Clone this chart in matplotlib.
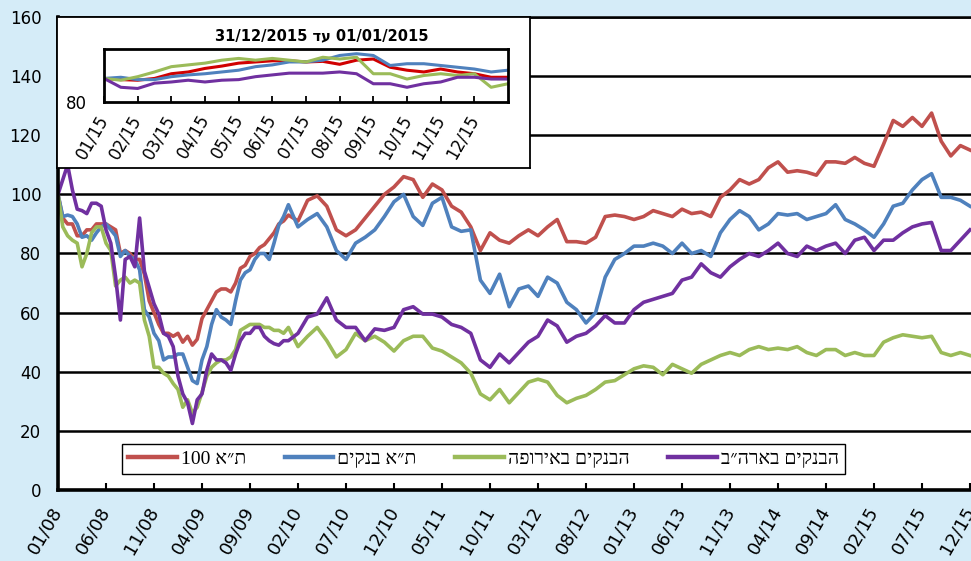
import numpy as np
import pandas as pd
import matplotlib
matplotlib.use('Agg')
import matplotlib.pyplot as plt

# index values, 01/2008 - 12/2015 (start = 100)
# half-month readings for 2008-2009, monthly readings from 01/2010
months = pd.date_range('2008-01-01', periods=96, freq='MS')
t = np.concatenate([np.arange(0, 24, 0.5), np.arange(24, len(months))])

ta100 = [100, 92, 90, 90, 86, 86, 88, 88, 90, 90, 90, 89,
         88, 80, 81, 80, 78, 78, 73, 64, 60, 56, 53, 53,
         52, 53, 50, 52, 49, 51, 58, 61, 64, 67, 68, 68,
         67, 70, 75, 76, 79, 80, 82, 83, 85, 87, 90, 91,
         93, 91, 98, 99.5, 96, 88,
         86, 88, 92, 96, 100, 102.5, 106, 105, 99, 103.5,
         101.5, 96, 94, 89, 81, 87, 84.5, 83.5,
         86, 88, 86, 89, 91.5, 84, 84, 83.5, 85.5, 92.5,
         93, 92.5, 91.5, 92.5, 94.5, 93.5, 92.5, 95, 93.5, 94,
         92.5, 99, 101.5, 105, 103.5, 105, 109, 111, 107.5, 108,
         107.5, 106.5, 111, 111, 110.5, 112.5, 110.5, 109.5, 117, 125,
         123, 126, 123, 127.5, 118, 113, 116.5, 115]

ta_banks = [100, 92.5, 93, 92.5, 90, 85.5, 86, 84.5, 87, 89, 90, 88,
            86, 79, 81, 79, 78, 74.5, 61, 58.5, 53, 50.5, 44, 45,
            45, 46, 46, 41.5, 37, 36, 44, 48.5, 56, 61, 58.5, 57.5,
            56, 64, 71, 73.5, 74.5, 78, 80, 80, 78, 83.5, 89.5, 92.5,
            96.5, 89, 91.5, 93.5, 89, 81,
            78, 83.5, 85.5, 88, 92.5, 97.5, 100, 92.5, 89.5, 97,
            99, 89, 87.5, 88, 71, 66.5, 73, 62,
            68, 69, 65.5, 72, 70, 63.5, 61, 56.5, 60, 72,
            78, 80, 82.5, 82.5, 83.5, 82.5, 80, 83.5, 80, 81,
            79, 87, 91.5, 94.5, 92.5, 88, 90, 93.5, 93, 93.5,
            91.5, 92.5, 93.5, 96.5, 91.5, 90, 88, 85.5, 90, 96,
            97, 101.5, 105, 107, 99, 99, 98, 96]

eu_banks = [100, 89, 86, 84.5, 83.5, 75.5, 80, 87, 89, 89, 83.5, 81,
            69, 71, 72, 70, 71, 70, 57.5, 52, 41.5, 41.5, 39.5, 38.5,
            36, 34, 28, 30.5, 26, 28, 33, 38.5, 41.5, 43, 44, 44,
            45, 47.5, 54, 55, 56, 56, 56, 55, 55, 54, 54, 53,
            55, 48.5, 52, 55, 50.5, 45,
            47.5, 53, 50.5, 52, 50, 47, 50.5, 52, 52, 48,
            47, 45, 43, 39.5, 32.5, 30.5, 34, 29.5,
            33, 36.5, 37.5, 36.5, 32, 29.5, 31, 32, 34, 36.5,
            37, 39, 41, 42, 41.5, 39, 42.5, 41, 39.5, 42.5,
            44, 45.5, 46.5, 45.5, 47.5, 48.5, 47.5, 48, 47.5, 48.5,
            46.5, 45.5, 47.5, 47.5, 45.5, 46.5, 45.5, 45.5, 50, 51.5,
            52.5, 52, 51.5, 52, 46.5, 45.5, 46.5, 45.5]

us_banks = [100, 105, 110, 101.5, 95, 94.5, 93.5, 97, 97, 96, 88, 83.5,
            72, 57.5, 78, 79, 75.5, 92, 74, 68.5, 63, 59.5, 53, 52,
            48.5, 38.5, 32.5, 29.5, 22.5, 30.5, 32.5, 40.5, 46, 44, 44, 43,
            40.5, 46, 50.5, 53, 53, 55, 55, 52, 50.5, 49.5, 49, 50.5,
            50.5, 53, 58.5, 59.5, 65, 57.5,
            55, 55, 50.5, 54.5, 54, 55, 61, 62, 59.5, 59.5,
            58.5, 56, 55, 53, 44, 41.5, 46, 43,
            46.5, 50, 52, 57.5, 55.5, 50, 52, 53, 55.5, 59,
            56.5, 56.5, 61, 63.5, 64.5, 65.5, 66.5, 71, 72, 76.5,
            73.5, 72, 75.5, 78, 80, 79, 81, 83.5, 80, 79,
            82.5, 81, 82.5, 83.5, 80, 84.5, 85.5, 81, 84.5, 84.5,
            87, 89, 90, 90.5, 81, 81, 84.5, 88]

# inset: 2015, half-month readings (start = 100)
ta100_15 = [100, 99, 98.5, 100, 104, 105.5, 108.5, 110.5, 113, 114, 115, 115,
            114, 114.5, 112, 115.5, 116.5, 109.5, 107, 105.5, 108, 105.5, 104, 101, 101]
ta_banks_15 = [100, 101, 99, 99, 101.5, 103, 104, 105.5, 107, 110, 111.5, 114,
               114, 115.5, 119.5, 121, 119.5, 111, 112.5, 112.5, 111, 109.5, 108, 105.5, 107]
eu_banks_15 = [100, 98.5, 101.5, 105.5, 110, 111.5, 113, 115.5, 117, 115.5, 117, 115.5,
               114, 118, 116.5, 118, 104, 104, 99.5, 102.5, 104, 102.5, 104, 92.5, 95.5]
us_banks_15 = [100, 92.5, 91.5, 96, 97, 98.5, 97, 98.5, 99, 101.5, 103, 104.5,
               104.5, 104.5, 105.5, 104, 95.5, 95.5, 92.5, 95.5, 97, 101, 101, 99.5, 99.5]
months_15 = pd.date_range('2015-01-01', periods=12, freq='MS')

labels = ['ת״א 100', 'ת״א בנקים', 'הבנקים באירופה', 'הבנקים בארה״ב']
title_15 = '01/01/2015 עד 31/12/2015'


def visual(s):
    # matplotlib has no bidi layout: put hebrew text in visual order
    words = []
    for w in s.split(' '):
        if any('\u0590' <= c <= '\u05ff' for c in w):
            w = w[::-1]
        words.append(w)
    return ' '.join(words[::-1])


colors = ['#C0504D', '#4F81BD', '#9BBB59', '#7030A0']
colors_15 = ['#D00000', '#4F81BD', '#9BBB59', '#7030A0']
bg = '#D5ECF8'

W, H = 971, 561
fig = plt.figure(figsize=(W / 100, H / 100), dpi=100, facecolor=bg)

ax = fig.add_axes([58 / W, 71 / H, 921.6 / W, 473 / H])
lines = []
for ser, c, lab in zip([ta100, ta_banks, eu_banks, us_banks], colors, labels):
    ln, = ax.plot(t, ser, color=c, lw=2.6, label=visual(lab))
    lines.append(ln)

ax.set_xlim(0, 96)
ax.set_ylim(0, 160)
ax.set_yticks(np.arange(0, 161, 20))
ax.yaxis.grid(True, color='black', lw=1.8)
ax.set_axisbelow(True)
xt = np.arange(0, len(months), 5)
ax.set_xticks(xt)
ax.set_xticklabels(months[xt].strftime('%m/%y'), rotation=60, ha='right',
                   va='center', rotation_mode='anchor', fontsize=13)
ax.tick_params(axis='x', direction='in', length=5, width=1.5, pad=13)
ax.tick_params(axis='y', length=0, pad=12, labelsize=12)
ax.spines['right'].set_visible(False)
for s in ['left', 'bottom']:
    ax.spines[s].set_linewidth(2.6)
ax.spines['top'].set_linewidth(1.8)

leg = ax.legend(handles=lines, loc='center', bbox_to_anchor=(483.5 / W, 102 / H),
                bbox_transform=fig.transFigure, ncol=4, fancybox=False,
                edgecolor='black', framealpha=1, handlelength=2.5,
                handletextpad=0.2, columnspacing=2.0, borderpad=0.3,
                prop={'family': ['Liberation Serif', 'DejaVu Sans'], 'size': 14})
leg.get_frame().set_linewidth(1.0)
for l in leg.get_lines():
    l.set_linewidth(3.2)

# inset box
box = fig.add_axes([57 / W, (H - 168) / H, 473 / W, 151 / H], zorder=5)
box.set_xticks([])
box.set_yticks([])
for s in box.spines.values():
    s.set_linewidth(1.3)
box.text(0.56, 0.874, visual(title_15), transform=box.transAxes, ha='center',
         va='center', fontsize=10.5, fontweight='bold',
         family=['DejaVu Sans'])

ins = fig.add_axes([104 / W, (H - 102) / H, 404 / W, 53 / H], zorder=6)
xs = np.arange(len(ta100_15)) / 2
for ser, c in zip([ta100_15, ta_banks_15, eu_banks_15, us_banks_15], colors_15):
    ins.plot(xs, ser, color=c, lw=2.2)
ins.set_xlim(0, 12)
ins.set_ylim(80, 125)
ins.set_yticks([80])
ins.set_xticks(np.arange(len(months_15)))
ins.set_xticklabels(months_15.strftime('%m/%y'), rotation=60, ha='right',
                    va='center', rotation_mode='anchor', fontsize=12)
ins.tick_params(axis='x', direction='in', length=4, width=1.3, pad=10)
ins.tick_params(axis='y', length=0, pad=12, labelsize=12)
for s in ins.spines.values():
    s.set_linewidth(2)

fig.savefig('out.png', dpi=100, facecolor=bg)
